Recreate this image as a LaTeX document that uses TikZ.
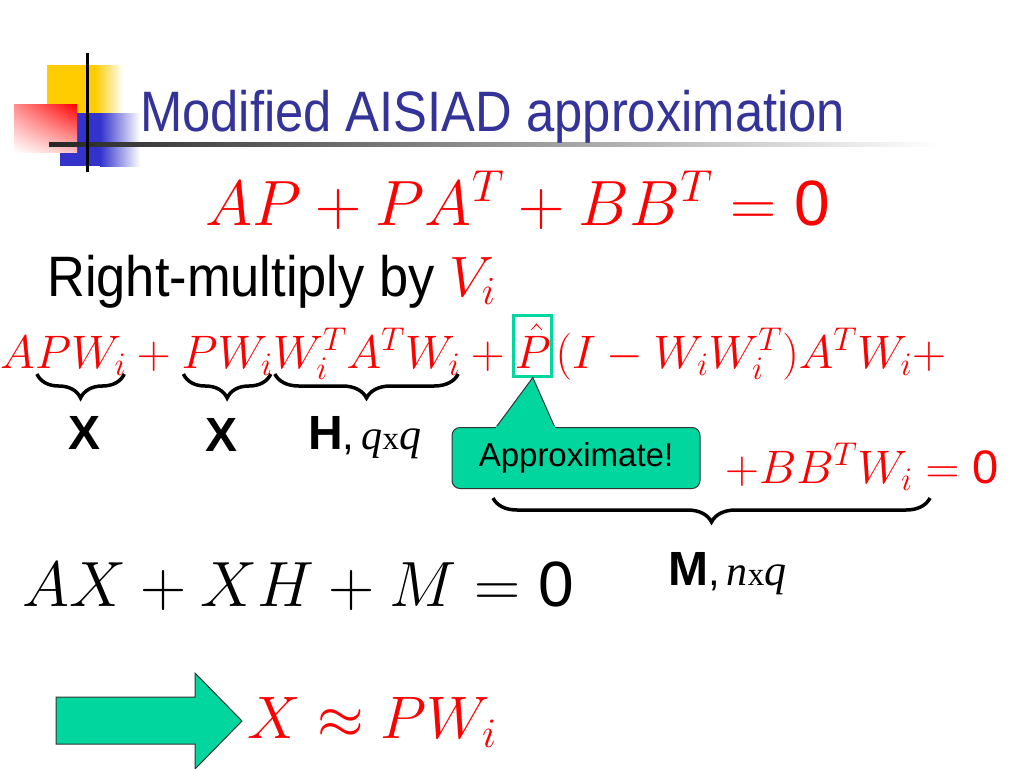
\RequirePackage{fix-cm}
\documentclass[tikz,border=0pt]{standalone}
\usepackage[no-math]{fontspec}
\setmainfont{Liberation Sans}
\newfontfamily\narrowfont[FakeStretch=0.89]{Liberation Sans}
\newfontfamily\rmulfont[FakeStretch=0.92]{Liberation Sans}
\newfontfamily\timesfont{Liberation Serif}
\usetikzlibrary{positioning,calc,decorations.pathreplacing,shadings}
\definecolor{titleblue}{RGB}{51,51,153}
\definecolor{logoyel}{RGB}{255,204,0}
\definecolor{logoblu}{RGB}{51,51,204}
\definecolor{callgreen}{RGB}{0,214,158}
\newcommand\sz{\mbox{0}}
\newcommand\dimtxt[2]{{\mdseries\fontsize{42}{42}\selectfont,\,\timesfont\itshape #1\upshape\fontsize{33}{33}\selectfont x\itshape\fontsize{44}{44}\selectfont #2}}
\tikzset{
  eqn/.style={inner sep=0pt, text=red, anchor=base west, font=\fontsize{47}{50}\selectfont},
  brc/.style={decorate, decoration={brace, mirror, amplitude=24pt}, line width=3.5pt},
  lab/.style={inner sep=0pt, anchor=base west, font=\fontsize{48}{50}\selectfont\bfseries}
}
\begin{document}
\begin{tikzpicture}[x=1pt,y=-1pt]
\useasboundingbox (0,0) rectangle (1024,768);

% logo and title rule
\fill[logoyel] (47,65) rectangle (95,113);
\shade[left color=logoyel, right color=white] (95,65) rectangle (123,113);
\fill[logoblu] (60,113) rectangle (100,166);
\shade[left color=logoblu, right color=white] (100,113) rectangle (140,166);
\shade[upper right=red, upper left=red!45, lower right=red!25, lower left=white] (14,104) rectangle (77,152);
\shade[left color=black!85, right color=white] (49,142) rectangle (940,146);
\draw[line width=3pt] (87,53) -- (87,172);

\node[anchor=base west, inner sep=0pt, text=titleblue, font=\narrowfont\fontsize{57}{60}\selectfont] (title) at (140,131) {Modified AISIAD approximation};

\node[eqn, font=\fontsize{64}{70}\selectfont] (lyap) at (205,225) {$AP+PA^T+BB^T=\sz$};
\node[anchor=base west, inner sep=0pt, font=\rmulfont\fontsize{57}{60}\selectfont] (rmul) at (47,296) {Right-multiply by \textcolor{red}{$V_i$}};

% projected equation
\node[eqn] (a1) at (0,368) {$A$};
\node[eqn] (pw1) at (a1.base east) {$PW_i$};
\node[eqn] (p1) at (pw1.base east) {${}+{}$};
\node[eqn] (pw2) at (p1.base east) {$PW_i$};
\node[eqn] (hpart) at (pw2.base east) {$W_i^TA^TW_i$};
\node[eqn] (p2) at (hpart.base east) {${}+{}$};
\node[eqn, draw=callgreen, line width=3pt, inner xsep=1pt, inner ysep=8pt] (phat) at ([xshift=-3pt]p2.base east) {$\hat P$};
\node[eqn] (rest) at ([xshift=2pt]phat.base east) {$(I-W_iW_i^T)A^TW_i{+}$};
\node[eqn] (bbt) at (725,483) {${+}BB^TW_i=\sz$};

\draw[brc] ($(pw1.base west)+(2,6)$) -- ($(pw1.base east)+(-2,6)$);
\draw[brc] ($(pw2.base west)+(2,6)$) -- ($(pw2.base east)+(-2,6)$);
\draw[brc] ($(hpart.base west)+(2,6)$) -- ($(hpart.base east)+(-2,6)$);
\coordinate (mleft) at (493,498);
\coordinate (mright) at ($(bbt.base west)+(205,15)$);
\draw[brc] (mleft) -- (mright);

\node[lab] (x1) at (68,449) {X};
\node[lab] (x2) at (205,451) {X};
\node[lab] (hlab) at (308,449) {H\dimtxt{q}{q}};
\node[lab] (mlab) at (668,585) {M\dimtxt{n}{q}};

% callout
\coordinate (tip) at (phat.south);
\filldraw[fill=callgreen, draw=black!80, line width=1pt] (494,430) -- (tip) -- (556,430) -- cycle;
\node[fill=callgreen, draw=black!80, line width=1pt, rounded corners=8pt, minimum width=248pt, minimum height=61pt, font=\fontsize{33}{36}\selectfont] (approx) at (576,458) {Approximate!};
\fill[callgreen] (495.5,426) rectangle (554.5,430);

\node[eqn, text=black, font=\fontsize{64}{66}\selectfont] (sylv) at (22,606) {$AX+XH+M=\sz$};

% result
\draw[fill=callgreen, draw=black!80, line width=1pt] (56,697) -- (195,697) -- (195,673) -- (242,721) -- (195,769) -- (195,744) -- (56,744) -- cycle;
\node[eqn, font=\fontsize{60}{64}\selectfont] (res) at (247,738) {$X\approx PW_i$};
\end{tikzpicture}
\end{document}
